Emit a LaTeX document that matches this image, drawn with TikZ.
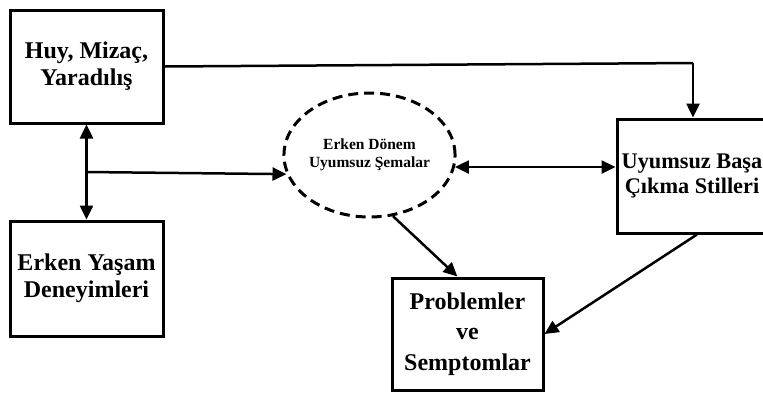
\documentclass[tikz,border=0pt]{standalone}
\usepackage{fontspec}
\setmainfont{Liberation Serif}
\usetikzlibrary{arrows.meta,shapes.geometric}
\begin{document}
\begin{tikzpicture}[x=1pt,y=-1pt,
  box/.style={draw,line width=3pt,rectangle,inner sep=0pt,align=center,
    font=\bfseries\fontsize{24}{27}\selectfont},
  schemanode/.style={draw,line width=3pt,ellipse,inner sep=0pt,align=center,
    dash pattern=on 10pt off 6pt,
    font=\bfseries\fontsize{15.5}{18}\selectfont},
  link/.style={line width=2.5pt,-{Triangle[length=14pt,width=13pt]}},
  biline/.style={line width=2.5pt,{Triangle[length=14pt,width=13pt]}-{Triangle[length=14pt,width=13pt]}},
  plain/.style={line width=2.5pt}]
\clip (0,0) rectangle (763,392);
\fill[white] (0,0) rectangle (763,392);

\node[box,minimum width=153pt,minimum height=113pt] (huy) at (86.5,66.5)
  {Huy, Mizaç,\\Yaradılış};
\node[box,minimum width=153pt,minimum height=115pt] (erken) at (86.5,278.5)
  {Erken Yaşam\\Deneyimleri};
\node[schemanode,minimum width=139pt,minimum height=124pt] (schema) at (369.5,155)
  {Erken Dönem\\Uyumsuz Şemalar};
% the coping-styles box runs past the right edge; its text sits left of centre
\node[box,minimum width=170pt,minimum height=114pt,
  label={[font=\bfseries\fontsize{22.3}{25}\selectfont,align=center,
    xshift=-10pt]center:{Uyumsuz Başa\\Çıkma Stilleri}}] (basa) at (702,176) {};
\node[box,font=\bfseries\fontsize{24}{30.5}\selectfont,
  minimum width=151pt,minimum height=112pt] (prob) at (467.5,334)
  {Problemler\\ve\\Semptomlar};

% junction on the vertical link between the two left boxes
\coordinate (j) at (86.5,172);
\coordinate (top) at (693,63);

\draw[biline] (huy.south) -- (erken.north);
\draw[link] (j) -- (schema.193);
\draw[biline] (schema.352) -- (schema.352 -| basa.west);
\draw[plain] (huy.east) -- (top);
\draw[link] (top) -- (top |- basa.north);
\draw[link] ([xshift=-5pt]basa.south) -- (prob.east);
\draw[link] (schema.-69) -- (prob.100);
\end{tikzpicture}
\end{document}
